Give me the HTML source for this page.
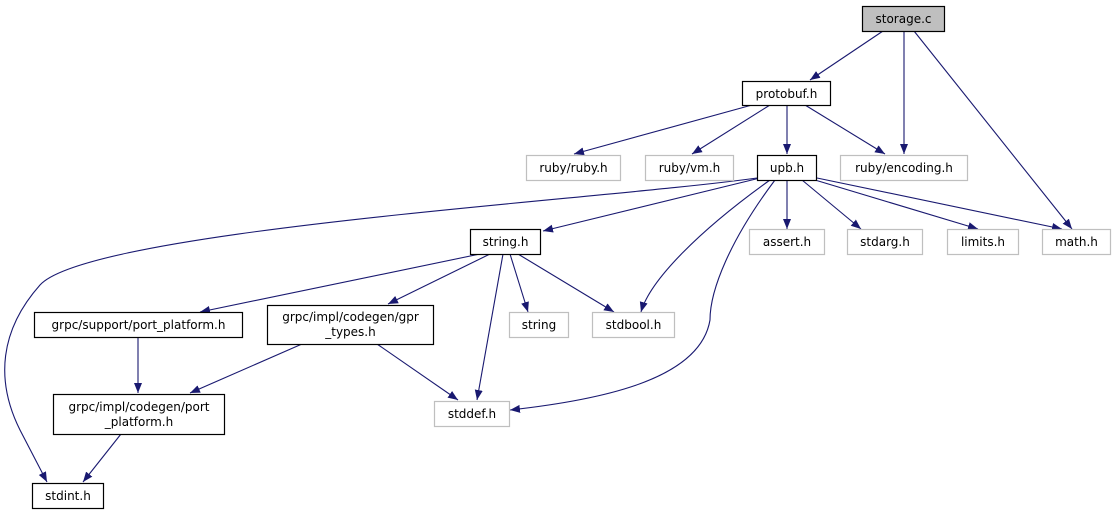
<!DOCTYPE html>
<html><head><meta charset="utf-8"><style>
html,body{margin:0;padding:0;background:#fff;width:1115px;height:515px;overflow:hidden}
svg text{font-family:"DejaVu Sans","Liberation Sans",sans-serif;font-size:12px;text-anchor:middle}
</style></head><body>
<svg width="1115" height="515" viewBox="0 0 1115 515" xmlns="http://www.w3.org/2000/svg">
<defs><marker id="a" viewBox="0 0 10 10" refX="10" refY="5" markerWidth="10" markerHeight="10" markerUnits="userSpaceOnUse" orient="auto"><path d="M0,1 L10,5 L0,9 z" fill="#191970"/></marker></defs>
<g fill="none" stroke="#191970" stroke-width="1.1" marker-end="url(#a)">
<path d="M883,31 L810,80"/>
<path d="M904,31 L904,154"/>
<path d="M914,31 L1072,229"/>
<path d="M752,105 L574,154"/>
<path d="M770,105 L692,154"/>
<path d="M787,105 L787,154"/>
<path d="M805,105 L885,154"/>
<path d="M760,178 L543,231"/>
<path d="M757,178 C600,200 90,230 40,285 C0,330 -5,380 20,430 L47,482"/>
<path d="M770,180 C700,230 650,280 641,312"/>
<path d="M775,180 C730,240 710,290 710,320 C700,380 600,400 510,410"/>
<path d="M787,180 L787,229"/>
<path d="M802,180 L861,229"/>
<path d="M815,180 L978,229"/>
<path d="M817,178 L1062,229"/>
<path d="M480,254 L200,312"/>
<path d="M490,254 L388,304"/>
<path d="M503,254 L477,400"/>
<path d="M510,254 L528,312"/>
<path d="M518,254 L614,312"/>
<path d="M138,337 L138,393"/>
<path d="M302,344 L190,393"/>
<path d="M377,344 L458,400"/>
<path d="M121,434 L83,482"/>
</g>
<g stroke-width="1.2">
<rect x="862.5" y="6.5" width="82" height="25" fill="#bfbfbf" stroke="#000"/>
<rect x="742.5" y="81.5" width="88" height="24" fill="#fff" stroke="#000"/>
<rect x="526.5" y="155.5" width="94" height="25" fill="#fff" stroke="#bfbfbf"/>
<rect x="645.5" y="155.5" width="88" height="25" fill="#fff" stroke="#bfbfbf"/>
<rect x="757.5" y="155.5" width="59" height="25" fill="#fff" stroke="#000"/>
<rect x="840.5" y="155.5" width="127" height="25" fill="#fff" stroke="#bfbfbf"/>
<rect x="470.5" y="229.5" width="70" height="25" fill="#fff" stroke="#000"/>
<rect x="749.5" y="229.5" width="75" height="25" fill="#fff" stroke="#bfbfbf"/>
<rect x="847.5" y="229.5" width="75" height="25" fill="#fff" stroke="#bfbfbf"/>
<rect x="947.5" y="229.5" width="71" height="25" fill="#fff" stroke="#bfbfbf"/>
<rect x="1042.5" y="229.5" width="68" height="25" fill="#fff" stroke="#bfbfbf"/>
<rect x="34.5" y="312.5" width="208" height="25" fill="#fff" stroke="#000"/>
<rect x="267.5" y="305.5" width="166" height="39" fill="#fff" stroke="#000"/>
<rect x="509.5" y="312.5" width="59" height="25" fill="#fff" stroke="#bfbfbf"/>
<rect x="592.5" y="312.5" width="82" height="25" fill="#fff" stroke="#bfbfbf"/>
<rect x="53.5" y="394.5" width="171" height="40" fill="#fff" stroke="#000"/>
<rect x="434.5" y="401.5" width="75" height="25" fill="#fff" stroke="#bfbfbf"/>
<rect x="32.5" y="483.5" width="71" height="25" fill="#fff" stroke="#000"/>
</g>
<g fill="#000">
<text x="903.5" y="23">storage.c</text>
<text x="786.5" y="98">protobuf.h</text>
<text x="573.5" y="172">ruby/ruby.h</text>
<text x="689.5" y="172">ruby/vm.h</text>
<text x="787" y="172">upb.h</text>
<text x="904" y="172">ruby/encoding.h</text>
<text x="505.5" y="246">string.h</text>
<text x="787" y="246">assert.h</text>
<text x="885" y="246">stdarg.h</text>
<text x="983" y="246">limits.h</text>
<text x="1076.5" y="246">math.h</text>
<text x="138.5" y="329">grpc/support/port_platform.h</text>
<text x="350.5" y="321">grpc/impl/codegen/gpr</text>
<text x="350.5" y="336">_types.h</text>
<text x="539" y="329">string</text>
<text x="633.5" y="329">stdbool.h</text>
<text x="139" y="411">grpc/impl/codegen/port</text>
<text x="139" y="426">_platform.h</text>
<text x="472" y="418">stddef.h</text>
<text x="68" y="500">stdint.h</text>
</g>
</svg>
</body></html>
